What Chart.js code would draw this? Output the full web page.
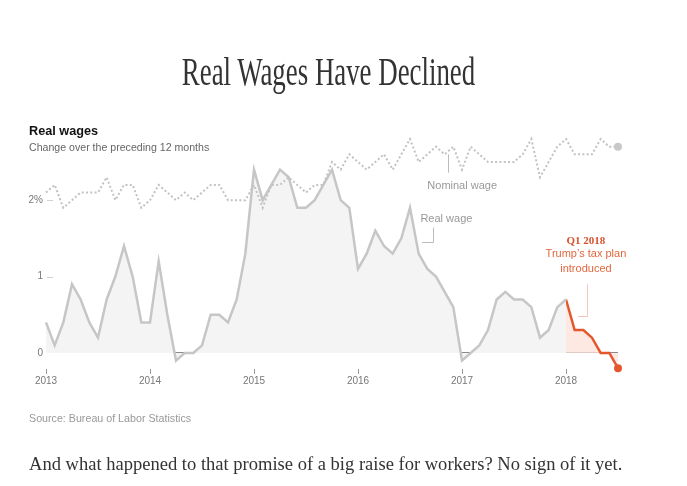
<!DOCTYPE html>
<html lang="en">
<head>
<meta charset="UTF-8">
<title>Real Wages Have Declined</title>
<script src="https://cdn.jsdelivr.net/npm/chart.js@4.4.1/dist/chart.umd.min.js"></script>
<style>
  body { margin: 0; background: #fff; width: 687px; height: 486px; position: relative; overflow: hidden;
         font-family: "Liberation Sans", Arial, sans-serif; }
  #myChart { position: absolute; left: 0; top: 0; }
  .title { position: absolute; left: 0; width: 657px; top: 51px; text-align: center; white-space: nowrap;
           font-family: "Liberation Serif", serif; font-size: 41px; line-height: 41px; color: #333;
           transform: scaleX(0.655); transform-origin: 328.5px 0; }
  .label { position: absolute; left: 29px; top: 125px; font-size: 12.7px; line-height: 13px; font-weight: bold; color: #121212; }
  .sub { position: absolute; left: 29px; top: 142px; font-size: 10.6px; line-height: 11px; color: #666; }
  .source { position: absolute; left: 29px; top: 413px; font-size: 10.7px; line-height: 11px; color: #999; }
  .footer { position: absolute; left: 29px; top: 455px; white-space: nowrap;
            font-family: "Liberation Serif", serif; font-size: 18.55px; line-height: 18px; color: #333; }
</style>
</head>
<body>
  <canvas id="myChart" width="687" height="486"></canvas>
  <div class="title">Real Wages Have Declined</div>
  <div class="label">Real wages</div>
  <div class="sub">Change over the preceding 12 months</div>
  <div class="source">Source: Bureau of Labor Statistics</div>
  <div class="footer">And what happened to that promise of a big raise for workers? No sign of it yet.</div>

<script>
  const years = ['2013', '2014', '2015', '2016', '2017', '2018'];
  const monthNames = ['Jan', 'Feb', 'Mar', 'Apr', 'May', 'Jun', 'Jul', 'Aug', 'Sep', 'Oct', 'Nov', 'Dec'];
  const yTicks = [0, 1, 2];

  // nominal wage growth, % over 12 months, Jan 2013 - Jul 2018
  const nominalWage = [
    2.1, 2.2, 1.9, 2.0, 2.1, 2.1, 2.1, 2.3, 2.0, 2.2, 2.2, 1.9,
    2.0, 2.2, 2.1, 2.0, 2.1, 2.0, 2.1, 2.2, 2.2, 2.0, 2.0, 2.0,
    2.2, 1.9, 2.2, 2.2, 2.3, 2.2, 2.1, 2.2, 2.2, 2.5, 2.4, 2.6,
    2.5, 2.4, 2.5, 2.6, 2.4, 2.6, 2.8, 2.5, 2.6, 2.7, 2.6, 2.7,
    2.4, 2.7, 2.6, 2.5, 2.5, 2.5, 2.5, 2.6, 2.8, 2.3, 2.5, 2.7,
    2.8, 2.6, 2.6, 2.6, 2.8, 2.7, 2.7
  ];

  // real wage growth, same months
  const realWage = [
    0.4, 0.1, 0.4, 0.9, 0.7, 0.4, 0.2, 0.7, 1.0, 1.4, 1.0, 0.4,
    0.4, 1.2, 0.5, -0.1, 0.0, 0.0, 0.1, 0.5, 0.5, 0.4, 0.7, 1.3,
    2.4, 2.0, 2.2, 2.4, 2.3, 1.9, 1.9, 2.0, 2.2, 2.4, 2.0, 1.9,
    1.1, 1.3, 1.6, 1.4, 1.3, 1.5, 1.9, 1.3, 1.1, 1.0, 0.8, 0.6,
    -0.1, 0.0, 0.1, 0.3, 0.7, 0.8, 0.7, 0.7, 0.6, 0.2, 0.3, 0.6,
    0.7, 0.3, 0.3, 0.2, 0.0, 0.0, -0.2
  ];

  const taxPlanMonth = 'Jan 2018';

  const months = [];
  years.forEach(y => monthNames.forEach(m => months.push(m + ' ' + y)));
  const labels = months.slice(0, realWage.length);
  const lastIndex = labels.length - 1;
  const redStart = labels.indexOf(taxPlanMonth);

  const RED = '#e4572e';
  const GREY_LINE = '#c6c6c6';
  const sans = '"Liberation Sans", Arial, sans-serif';
  const serif = '"Liberation Serif", serif';

  // small dashes on y ticks, and the text notes
  const notes = {
    id: 'notes',
    afterDatasetsDraw(chart) {
      const { ctx, chartArea, scales: { x, y } } = chart;
      ctx.save();

      ctx.strokeStyle = '#d0d0d0';
      ctx.lineWidth = 1;
      [1, 2].forEach(v => {
        const py = Math.round(y.getPixelForValue(v)) + 0.5;
        ctx.beginPath();
        ctx.moveTo(chartArea.left + 1, py);
        ctx.lineTo(chartArea.left + 7, py);
        ctx.stroke();
      });

      // Nominal wage
      ctx.strokeStyle = '#bbb';
      ctx.beginPath();
      ctx.moveTo(Math.round(x.getPixelForValue(46.4)) + 0.5, y.getPixelForValue(2.6));
      ctx.lineTo(Math.round(x.getPixelForValue(46.4)) + 0.5, y.getPixelForValue(2.36));
      ctx.stroke();
      ctx.fillStyle = '#999';
      ctx.font = '11px ' + sans;
      ctx.textAlign = 'left';
      ctx.textBaseline = 'middle';
      ctx.fillText('Nominal wage', x.getPixelForValue(44.0), y.getPixelForValue(2.19));

      // Real wage
      ctx.beginPath();
      ctx.moveTo(x.getPixelForValue(43.4), Math.round(y.getPixelForValue(1.45)) + 0.5);
      ctx.lineTo(Math.round(x.getPixelForValue(44.6)) + 0.5, Math.round(y.getPixelForValue(1.45)) + 0.5);
      ctx.lineTo(Math.round(x.getPixelForValue(44.6)) + 0.5, y.getPixelForValue(1.64));
      ctx.stroke();
      ctx.fillText('Real wage', x.getPixelForValue(43.2), y.getPixelForValue(1.76));

      // tax plan
      ctx.strokeStyle = '#f6c7b9';
      ctx.beginPath();
      ctx.moveTo(Math.round(x.getPixelForValue(62.4)) + 0.5, y.getPixelForValue(0.9));
      ctx.lineTo(Math.round(x.getPixelForValue(62.4)) + 0.5, Math.round(y.getPixelForValue(0.49)) + 0.5);
      ctx.lineTo(x.getPixelForValue(61.4), Math.round(y.getPixelForValue(0.49)) + 0.5);
      ctx.stroke();
      ctx.textAlign = 'center';
      ctx.fillStyle = '#d9502c';
      ctx.font = 'bold 11px ' + serif;
      ctx.fillText('Q1 2018', x.getPixelForValue(62.3), y.getPixelForValue(1.47));
      ctx.fillStyle = '#e2673f';
      ctx.font = '11px ' + sans;
      ctx.fillText('Trump\u2019s tax plan', x.getPixelForValue(62.3), y.getPixelForValue(1.29));
      ctx.fillText('introduced', x.getPixelForValue(62.3), y.getPixelForValue(1.1));

      ctx.restore();
    }
  };

  const config = {
    type: 'line',
    data: {
      labels: labels,
      datasets: [
        {
          label: 'Nominal wage',
          data: nominalWage,
          borderColor: '#c2c2c2',
          borderWidth: 2,
          borderDash: [2, 2.3],
          fill: false,
          pointRadius: ctx => ctx.dataIndex === lastIndex ? 4 : 0,
          pointBackgroundColor: '#c8c8c8',
          pointBorderWidth: 0,
          clip: false
        },
        {
          label: 'Real wage',
          data: realWage.map((v, i) => i <= redStart ? v : null),
          borderColor: GREY_LINE,
          borderWidth: 2.5,
          backgroundColor: '#f4f4f4',
          fill: 'origin',
          pointRadius: 0
        },
        {
          label: 'Real wage since tax plan',
          data: realWage.map((v, i) => i >= redStart ? v : null),
          borderColor: RED,
          borderWidth: 2.5,
          backgroundColor: 'rgba(252, 224, 216, 0.75)',
          fill: 'origin',
          pointRadius: ctx => ctx.dataIndex === lastIndex ? 4 : 0,
          pointBackgroundColor: RED,
          pointBorderWidth: 0,
          clip: false
        }
      ]
    },
    options: {
      responsive: false,
      animation: false,
      layout: { padding: { top: 136, right: 69, bottom: 97, left: 0 } },
      plugins: { legend: { display: false }, tooltip: { enabled: false } },
      elements: { line: { tension: 0 } },
      scales: {
        x: {
          type: 'category',
          offset: false,
          border: { display: false },
          grid: { drawOnChartArea: false, drawTicks: true, tickLength: 5, tickColor: '#999', tickWidth: 1 },
          ticks: {
            autoSkip: false, maxRotation: 0, padding: 1, color: '#777',
            font: { family: sans, size: 10 },
            callback: (v, i) => years[i]
          },
          afterBuildTicks: s => { s.ticks = years.map((yr, i) => ({ value: i * 12 })); },
          afterFit: s => { s.height = 20; }
        },
        y: {
          min: -0.21,
          max: 2.84,
          border: { display: false },
          grid: {
            drawTicks: false,
            lineWidth: 1,
            color: c => c.tick && c.tick.value === 0 ? '#8a8a8a' : 'transparent'
          },
          ticks: {
            padding: 3, color: '#777',
            font: { family: sans, size: 10 },
            callback: v => v === 2 ? '2%' : String(v)
          },
          afterBuildTicks: s => { s.ticks = yTicks.map(v => ({ value: v })); },
          afterFit: s => { s.width = 46; }
        }
      }
    },
    plugins: [notes]
  };

  new Chart(document.getElementById('myChart').getContext('2d'), config);
</script>
</body>
</html>
